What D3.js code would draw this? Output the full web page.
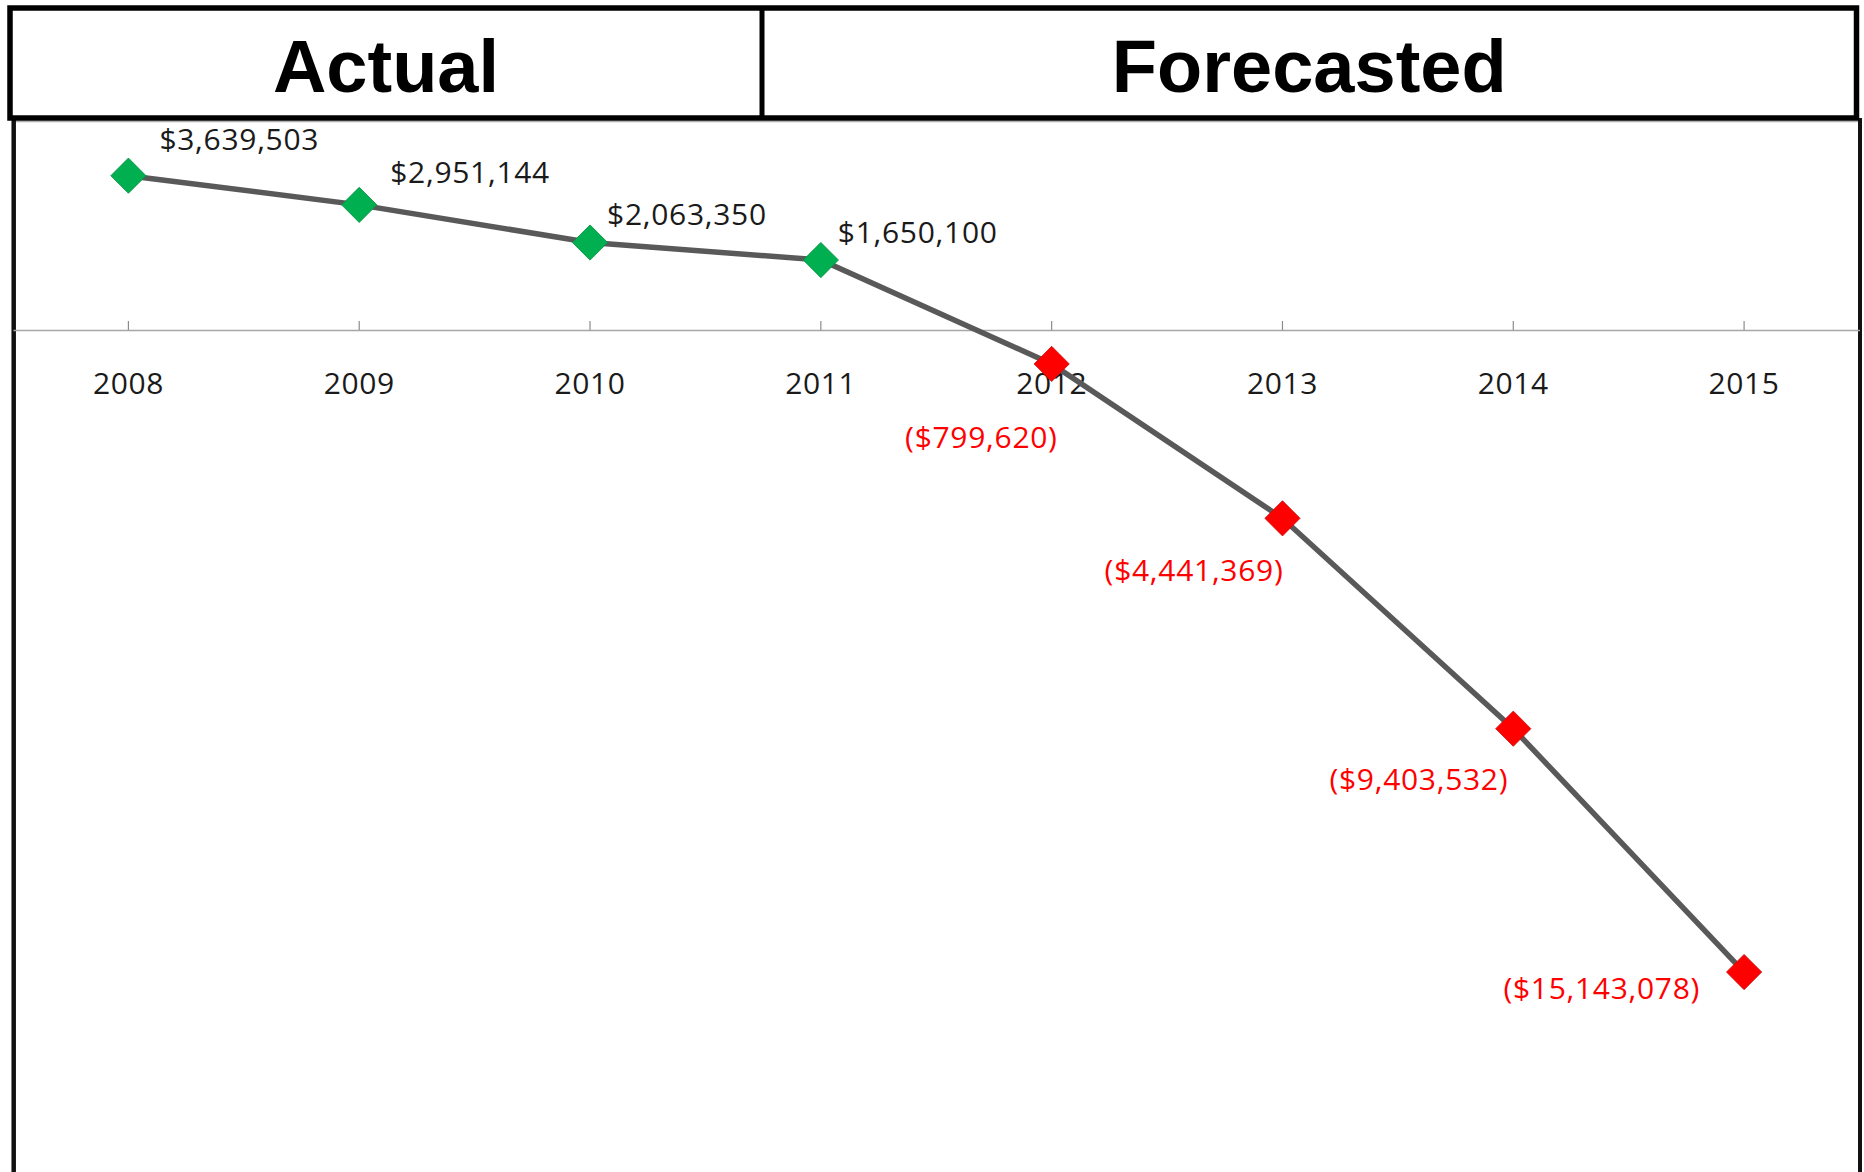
<!DOCTYPE html>
<html>
<head>
<meta charset="utf-8">
<script src="https://cdn.jsdelivr.net/npm/d3@7/dist/d3.min.js"></script>
<style>
	body { margin: 0; background: #fff; }
	svg { display: block; }
</style>
</head>
<body>
<div id="chart"></div>
<script>
// data
const years = ['2008', '2009', '2010', '2011', '2012', '2013', '2014', '2015'];
const netValues = [3639503, 2951144, 2063350, 1650100, -799620, -4441369, -9403532, -15143078];
const isForecast = [false, false, false, false, true, true, true, true];
const sectionTitles = ['Actual', 'Forecasted'];
// label nudges (dx, dy from the marker), as placed by hand in the original
const labelNudge = [[31, -26], [31, -22], [17, -18], [17, -17], [6, 84], [1, 63], [-5, 61], [-44, 27]];

const width = 1864,
	height = 1172,
	headTop = 8,
	headBottom = 118,
	headLeft = 10,
	headRight = 1856.5,
	headSplit = 762;

let svg = d3.select('#chart').append('svg')
	.attr('width', width)
	.attr('height', height);

let x = d3.scaleBand().domain(years).range([13, 1859.5]),
	y = d3.scaleLinear().domain([-20000000, 5000000]).range([1178, 118]);

let fmt = d3.format(',.0f');
let money = v => v < 0 ? `($${fmt(-v)})` : `$${fmt(v)}`;
let cx = d => x(d.year) + x.bandwidth() / 2;

let data = years.map((yr, i) => ({year: yr, value: netValues[i], forecast: isForecast[i], nudge: labelNudge[i]}));

// plot frame
svg.append('line')
	.attr('x1', 13).attr('x2', 1860)
	.attr('y1', 121.5).attr('y2', 121.5)
	.style('stroke', '#b0b0b0')
	.style('stroke-width', 1.5);
svg.append('line')
	.attr('x1', 13.7).attr('x2', 13.7)
	.attr('y1', headBottom).attr('y2', height)
	.style('stroke', '#111')
	.style('stroke-width', 4.5);
svg.append('line')
	.attr('x1', 1860).attr('x2', 1860)
	.attr('y1', headBottom).attr('y2', height)
	.style('stroke', '#111')
	.style('stroke-width', 4);

// category axis at zero
let axis = svg.append('g')
	.attr('class', 'axis x--axis')
	.attr('transform', `translate(0, ${y(0)})`)
	.call(d3.axisBottom(x).tickSizeInner(-9).tickSizeOuter(0).tickPadding(43));
axis.select('.domain').style('stroke', '#a6a6a6').style('stroke-width', 1.5);
axis.selectAll('.tick line').style('stroke', '#8c8c8c').style('stroke-width', 1.2);
axis.selectAll('.tick text')
	.style('font-family', '"Open Sans", sans-serif')
	.style('font-size', '30px')
	.style('letter-spacing', '0.6px')
	.style('fill', '#1a1a1a');

// series line
svg.append('path')
	.datum(data)
	.attr('d', d3.line().x(cx).y(d => y(d.value)))
	.style('fill', 'none')
	.style('stroke', '#595959')
	.style('stroke-width', 5.5);

// diamond markers
svg.append('g')
	.selectAll('path')
	.data(data)
	.enter().append('path')
	.attr('d', d3.symbol().type(d3.symbolSquare).size(620))
	.attr('transform', d => `translate(${cx(d)}, ${y(d.value)}) rotate(45)`)
	.style('fill', d => d.forecast ? '#ff0000' : '#00b050')
	.style('stroke', d => d.forecast ? '#c81010' : '#0a8f44')
	.style('stroke-width', 0.8);

// value labels
svg.append('g')
	.selectAll('text')
	.data(data)
	.enter().append('text')
	.attr('x', d => cx(d) + d.nudge[0])
	.attr('y', d => y(d.value) + d.nudge[1])
	.style('text-anchor', d => d.forecast ? 'end' : 'start')
	.style('font-family', '"Open Sans", sans-serif')
	.style('font-size', '30px')
	.style('letter-spacing', '0.7px')
	.style('fill', d => d.forecast ? '#ff0000' : '#1a1a1a')
	.text(d => money(d.value));

// header table
let head = svg.append('g').attr('class', 'header');
head.append('rect')
	.attr('x', headLeft).attr('y', headTop)
	.attr('width', headRight - headLeft).attr('height', headBottom - headTop)
	.style('fill', '#fff')
	.style('stroke', '#000')
	.style('stroke-width', 5.5);
head.append('line')
	.attr('x1', headSplit).attr('x2', headSplit)
	.attr('y1', headTop).attr('y2', headBottom)
	.style('stroke', '#000')
	.style('stroke-width', 5);
head.selectAll('text')
	.data(sectionTitles)
	.enter().append('text')
	.attr('x', (d, i) => i === 0 ? (headLeft + headSplit) / 2 : (headSplit + headRight) / 2)
	.attr('y', 92)
	.style('text-anchor', 'middle')
	.style('font-family', '"Liberation Sans", Arial, sans-serif')
	.style('font-weight', 'bold')
	.style('font-size', '74px')
	.style('fill', '#000')
	.text(d => d);
</script>
</body>
</html>
